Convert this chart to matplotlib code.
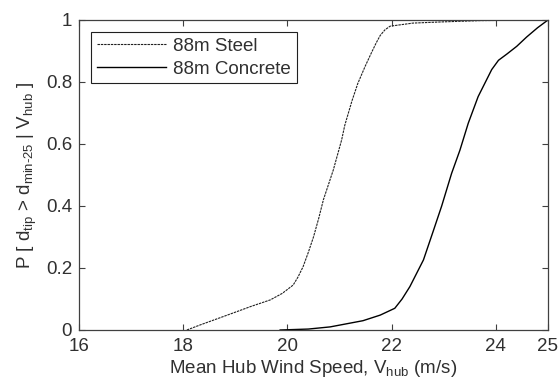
import numpy as np
import matplotlib
matplotlib.use('Agg')
import matplotlib.pyplot as plt

# fragility curves
steel_v = [18.07, 18.32, 18.6, 18.96, 19.3, 19.67, 19.9, 20.11, 20.2, 20.3,
           20.4, 20.5, 20.6, 20.69, 20.88, 21.04, 21.1, 21.24, 21.35, 21.49,
           21.6, 21.7, 21.78, 21.87, 21.97, 22.41, 23.0, 23.7, 25.0]
steel_p = [0.0, 0.016, 0.033, 0.055, 0.076, 0.097, 0.118, 0.145, 0.17, 0.204,
           0.25, 0.30, 0.36, 0.42, 0.516, 0.613, 0.66, 0.74, 0.795, 0.85,
           0.89, 0.925, 0.95, 0.968, 0.98, 0.99, 0.994, 0.998, 1.0]

concrete_v = [19.86, 20.4, 20.82, 21.45, 21.78, 22.06, 22.2, 22.35, 22.61,
              22.8, 22.96, 23.15, 23.31, 23.47, 23.66, 23.92, 24.05, 24.21,
              24.4, 24.59, 24.8, 25.0]
concrete_p = [0.0, 0.003, 0.01, 0.03, 0.048, 0.07, 0.1, 0.14, 0.226,
              0.32, 0.40, 0.505, 0.58, 0.667, 0.753, 0.84, 0.87, 0.89,
              0.915, 0.945, 0.975, 1.0]

x_ticks = [16, 18, 20, 22, 24, 25]
y_ticks = [0, 0.2, 0.4, 0.6, 0.8, 1]

plt.rcParams['font.family'] = 'Liberation Sans'
plt.rcParams['mathtext.fontset'] = 'custom'
plt.rcParams['mathtext.rm'] = 'Liberation Sans'
plt.rcParams['mathtext.it'] = 'Liberation Sans'
plt.rcParams['font.size'] = 13.5
txt = '#303030'

fig = plt.figure(figsize=(5.59, 3.88), dpi=100)
ax = fig.add_axes([0.1413, 0.1495, 0.839, 0.799])

ax.plot(steel_v, steel_p, color='#202020', lw=0.8, ls=(0, (2.2, 0.8)),
        label='88m Steel')
ax.plot(concrete_v, concrete_p, color='black', lw=1.0, label='88m Concrete')

ax.set_xlim(16, 25)
ax.set_ylim(0, 1)
ax.set_xticks(x_ticks)
ax.set_xticklabels([str(t) for t in x_ticks])
ax.set_yticks(y_ticks)
ax.set_yticklabels(['0', '0.2', '0.4', '0.6', '0.8', '1'])
ax.tick_params(direction='in', length=4, width=0.8, top=True, right=True,
               colors='#404040', labelcolor=txt, labelsize=13.5)
ax.tick_params(axis='x', pad=6)
ax.tick_params(axis='y', pad=5)
for s in ax.spines.values():
    s.set_color('#404040')
    s.set_linewidth(0.9)

ax.set_xlabel(r'Mean Hub Wind Speed, V$_{\rm hub}$ (m/s)', color=txt,
              labelpad=2)
ax.set_ylabel(r'P [ d$_{\rm tip}$ > d$_{\text{min-25}}$ | V$_{\rm hub}$ ]',
              color=txt, labelpad=5)

leg = ax.legend(loc='upper left', bbox_to_anchor=(0.0256, 0.961),
                borderaxespad=0, fancybox=False, framealpha=1,
                edgecolor='#202020', handlelength=3.7, handletextpad=0.4,
                labelspacing=0.3, borderpad=0.3, fontsize=13.5)
leg.get_frame().set_linewidth(0.8)
for t in leg.get_texts():
    t.set_color(txt)

fig.savefig('out.png', dpi=100)
